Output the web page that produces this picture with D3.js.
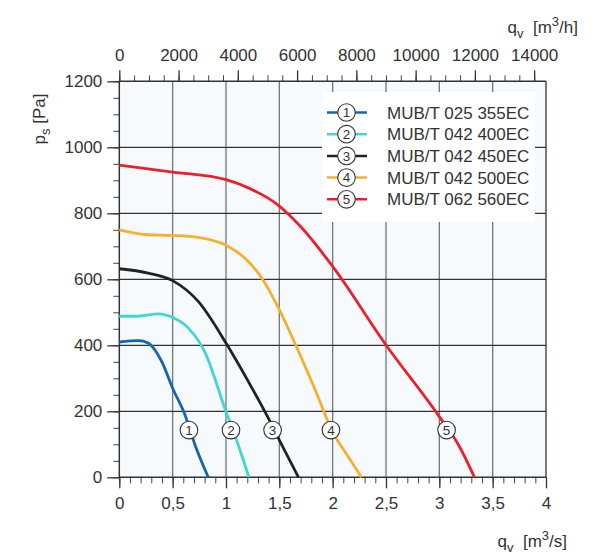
<!DOCTYPE html>
<html>
<head>
<meta charset="utf-8">
<script src="https://cdn.jsdelivr.net/npm/d3@7"></script>
<style>
  html, body { margin: 0; padding: 0; background: #fff; }
  svg text { font-family: "Liberation Sans", Arial, sans-serif; fill: #333; }
</style>
</head>
<body>
<svg id="chart" width="611" height="559"></svg>
<script>
// ---- data ----
const seriesNames = ["MUB/T 025 355EC", "MUB/T 042 400EC", "MUB/T 042 450EC", "MUB/T 042 500EC", "MUB/T 062 560EC"];
const seriesColors = ["#1565b0", "#3ed8d0", "#222222", "#f5b02e", "#e8222c"];
const curve1 = [[0,410],[0.18,414],[0.27,407],[0.397,351],[0.5,270],[0.616,189],[0.71,98],[0.834,0]];
const curve2 = [[0,488],[0.15,488],[0.366,495],[0.5,484],[0.647,452],[0.8,381],[1.0,199],[1.115,98],[1.215,0]];
const curve3 = [[0,632],[0.27,619],[0.5,596],[0.74,533],[1.0,407],[1.21,290],[1.397,179],[1.5,113],[1.68,0]];
const curve4 = [[0,750],[0.27,735],[0.5,733],[0.74,727],[1.0,703],[1.21,654],[1.335,604],[1.5,508],[1.66,396],[1.83,270],[2.0,138],[2.146,62],[2.27,0]];
const curve5 = [[0,946],[0.5,925],[1.0,902],[1.21,877],[1.5,822],[1.71,756],[2.0,639],[2.5,401],[3.0,184],[3.18,98],[3.33,0]];
const markerX = [0.653, 1.047, 1.437, 1.984, 3.068];
const markerY = 143;
const xTicks = [0, 0.5, 1, 1.5, 2, 2.5, 3, 3.5, 4];
const xTickLabels = ["0", "0,5", "1", "1,5", "2", "2,5", "3", "3,5", "4"];
const yTicks = [0, 200, 400, 600, 800, 1000, 1200];
const topTicks = [0, 2000, 4000, 6000, 8000, 10000, 12000, 14000];

const curves = [curve1, curve2, curve3, curve4, curve5];

// ---- layout ----
const svg = d3.select("#chart");
const L = 119.3, R = 546, T = 81.3, B = 477.3;
const x = d3.scaleLinear().domain([0, 4]).range([L, R]);
const y = d3.scaleLinear().domain([0, 1200]).range([B, T]);
const xh = d3.scaleLinear().domain([0, 4 * 3600]).range([L, R]);

// plot background
svg.append("rect").attr("x", L).attr("y", T).attr("width", R - L).attr("height", B - T)
  .attr("fill", "#f7fafc");

// grid
const grid = svg.append("g");
grid.selectAll("line.v").data(xTicks.filter(d => d > 0)).join("line")
  .attr("x1", d => x(d)).attr("x2", d => x(d)).attr("y1", T).attr("y2", B)
  .attr("stroke", d => d === 4 ? "#333" : "#6e7a7a").attr("stroke-width", 1.3);
grid.selectAll("line.h").data(yTicks.filter(d => d > 0 && d < 1200)).join("line")
  .attr("x1", L).attr("x2", R).attr("y1", d => y(d)).attr("y2", d => y(d))
  .attr("stroke", "#333").attr("stroke-width", 1.2);

// axes
const fontSize = "17px";
const bottomMinor = svg.append("g").attr("transform", `translate(0,${B})`)
  .call(d3.axisBottom(x).tickValues(d3.range(0, 4.0001, 0.1)).tickSize(6).tickFormat(""));
bottomMinor.select(".domain").remove();
bottomMinor.selectAll(".tick line").attr("stroke", "#444").attr("stroke-width", 1);
const bottomMajor = svg.append("g").attr("transform", `translate(0,${B})`)
  .call(d3.axisBottom(x).tickValues(xTicks).tickSize(11).tickPadding(9).tickFormat((d, i) => xTickLabels[i]));
bottomMajor.select(".domain").remove();
bottomMajor.selectAll(".tick line").attr("stroke", "#333").attr("stroke-width", 1.3);
bottomMajor.selectAll(".tick text").style("font-size", fontSize).attr("fill", "#333");

const leftMinor = svg.append("g").attr("transform", `translate(${L},0)`)
  .call(d3.axisLeft(y).tickValues(d3.range(0, 1201, 50)).tickSize(6).tickFormat(""));
leftMinor.select(".domain").remove();
leftMinor.selectAll(".tick line").attr("stroke", "#444").attr("stroke-width", 1);
const leftMajor = svg.append("g").attr("transform", `translate(${L},0)`)
  .call(d3.axisLeft(y).tickValues(yTicks).tickSize(12).tickPadding(5).tickFormat(d3.format("d")));
leftMajor.select(".domain").remove();
leftMajor.selectAll(".tick line").attr("stroke", "#333").attr("stroke-width", 1.3);
leftMajor.selectAll(".tick text").style("font-size", fontSize).attr("fill", "#333");

const topMinor = svg.append("g").attr("transform", `translate(0,${T})`)
  .call(d3.axisTop(xh).tickValues(d3.range(0, 14001, 500)).tickSize(6).tickFormat(""));
topMinor.select(".domain").remove();
topMinor.selectAll(".tick line").attr("stroke", "#444").attr("stroke-width", 1);
const topMajor = svg.append("g").attr("transform", `translate(0,${T})`)
  .call(d3.axisTop(xh).tickValues(topTicks).tickSize(11).tickPadding(9).tickFormat(d3.format("d")));
topMajor.select(".domain").remove();
topMajor.selectAll(".tick line").attr("stroke", "#333").attr("stroke-width", 1.3);
topMajor.selectAll(".tick text").style("font-size", fontSize).attr("fill", "#333");

// axis lines
svg.append("line").attr("x1", L).attr("x2", L).attr("y1", T).attr("y2", B).attr("stroke", "#333").attr("stroke-width", 1.5);
svg.append("line").attr("x1", L).attr("x2", R).attr("y1", B).attr("y2", B).attr("stroke", "#333").attr("stroke-width", 1.5);
svg.append("line").attr("x1", L).attr("x2", R).attr("y1", T).attr("y2", T).attr("stroke", "#333").attr("stroke-width", 1.5);

// legend background
svg.append("rect").attr("x", 322).attr("y", 92).attr("width", 213).attr("height", 130).attr("fill", "#fff");

// curves
const line = d3.line().x(d => x(d[0])).y(d => y(d[1])).curve(d3.curveMonotoneX);
svg.append("g").selectAll("path").data(curves).join("path")
  .attr("d", d => line(d)).attr("fill", "none")
  .attr("stroke", (d, i) => seriesColors[i]).attr("stroke-width", 2.8)
  .attr("stroke-linejoin", "round");

// markers
const mk = svg.append("g").selectAll("g").data(markerX).join("g")
  .attr("transform", d => `translate(${x(d)},${y(markerY)})`);
mk.append("circle").attr("r", 8.8).attr("fill", "#fff").attr("stroke", "#333").attr("stroke-width", 1.1);
mk.append("text").attr("text-anchor", "middle").attr("dy", "0.36em").style("font-size", "13.5px")
  .text((d, i) => i + 1);

// legend
const lg = svg.append("g").selectAll("g").data(seriesNames).join("g")
  .attr("transform", (d, i) => `translate(0,${112.5 + i * 21.7})`);
lg.append("line").attr("x1", 327).attr("x2", 367).attr("y1", 0).attr("y2", 0)
  .attr("stroke", (d, i) => seriesColors[i]).attr("stroke-width", 2.5);
lg.append("circle").attr("cx", 346.5).attr("r", 8.8).attr("fill", "#fff").attr("stroke", "#333").attr("stroke-width", 1.1);
lg.append("text").attr("x", 346.5).attr("text-anchor", "middle").attr("dy", "0.36em").style("font-size", "13.5px")
  .text((d, i) => i + 1);
lg.append("text").attr("x", 387).attr("dy", "0.36em").style("font-size", fontSize).text(d => d);

// axis titles
const yt = svg.append("text").attr("transform", "translate(45,119) rotate(-90)")
  .attr("text-anchor", "middle").style("font-size", fontSize);
yt.append("tspan").text("p");
yt.append("tspan").attr("dy", 5).style("font-size", "13px").text("s");
yt.append("tspan").attr("dy", -5).text("\u00a0[Pa]");

const tt = svg.append("text").attr("x", 578).attr("y", 33).attr("text-anchor", "end").style("font-size", fontSize);
tt.append("tspan").text("q");
tt.append("tspan").attr("dy", 5).style("font-size", "13px").text("v");
tt.append("tspan").attr("dy", -5).text("\u00a0\u00a0[m");
tt.append("tspan").attr("dy", -7).style("font-size", "13px").text("3");
tt.append("tspan").attr("dy", 7).text("/h]");

const bt = svg.append("text").attr("x", 567).attr("y", 547).attr("text-anchor", "end").style("font-size", fontSize);
bt.append("tspan").text("q");
bt.append("tspan").attr("dy", 5).style("font-size", "13px").text("v");
bt.append("tspan").attr("dy", -5).text("\u00a0\u00a0[m");
bt.append("tspan").attr("dy", -7).style("font-size", "13px").text("3");
bt.append("tspan").attr("dy", 7).text("/s]");
</script>
</body>
</html>
